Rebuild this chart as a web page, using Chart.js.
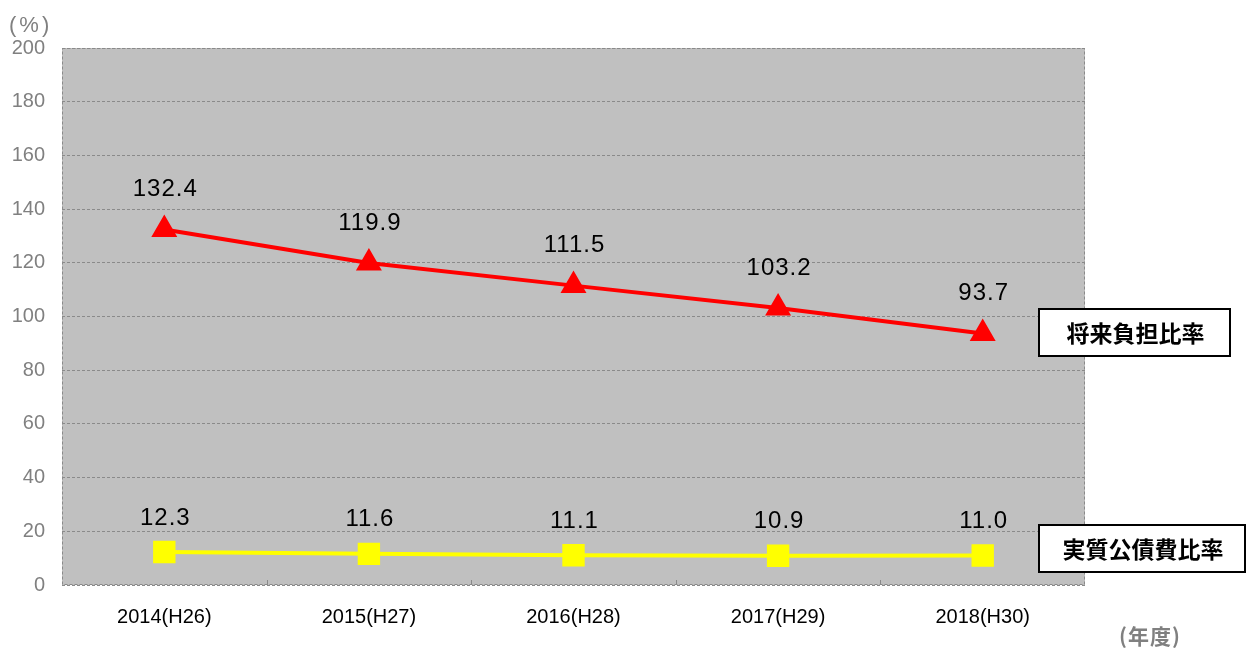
<!DOCTYPE html>
<html>
<head>
<meta charset="utf-8">
<script src="https://cdn.jsdelivr.net/npm/chart.js@4"></script>
<style>
  html, body { margin: 0; padding: 0; background: #fff; }
  #wrap { width: 1246px; height: 649px; position: relative; }
</style>
</head>
<body>
<div id="wrap"><canvas id="chart" width="1246" height="649"></canvas></div>
<script>
/********** DATA **********/
const years = ['2014(H26)', '2015(H27)', '2016(H28)', '2017(H29)', '2018(H30)'];
const futureBurden = [132.4, 119.9, 111.5, 103.2, 93.7];
const debtService = [12.3, 11.6, 11.1, 10.9, 11.0];
const seriesNames = ['将来負担比率', '実質公債費比率'];
const yTicks = [0, 20, 40, 60, 80, 100, 120, 140, 160, 180, 200];

const GRID = '#8a8a8a';
const CJK = '"Noto Sans CJK JP", "Noto Sans", sans-serif';

/********** PLUGIN: background, border, labels, boxes **********/
const decor = {
  id: 'decor',
  beforeDraw(chart) {
    const { ctx, chartArea: a } = chart;
    ctx.save();
    ctx.fillStyle = '#c0c0c0';
    ctx.fillRect(a.left, a.top, a.right - a.left, a.bottom - a.top);
    ctx.restore();
  },
  beforeDatasetsDraw(chart) {
    const { ctx, chartArea: a } = chart;
    ctx.save();
    // dashed frame
    ctx.strokeStyle = GRID;
    ctx.lineWidth = 1;
    ctx.setLineDash([3, 2]);
    ctx.strokeRect(a.left + 0.5, a.top + 0.5, a.right - a.left - 1, a.bottom - a.top - 1);
    ctx.setLineDash([]);
    // small category ticks on bottom edge
    const step = (a.right - a.left) / years.length;
    for (let i = 1; i < years.length; i++) {
      const x = Math.round(a.left + step * i) + 0.5;
      ctx.beginPath();
      ctx.moveTo(x, a.bottom);
      ctx.lineTo(x, a.bottom - 5);
      ctx.stroke();
    }
    ctx.restore();
  },
  afterDraw(chart) {
    const { ctx } = chart;
    ctx.save();

    // value labels
    ctx.fillStyle = '#000';
    ctx.font = '24px "Liberation Sans", Arial, sans-serif';
    ctx.letterSpacing = '1px';
    ctx.textAlign = 'center';
    ctx.textBaseline = 'middle';
    const offs = [40, 34];
    chart.data.datasets.forEach((ds, di) => {
      chart.getDatasetMeta(di).data.forEach((pt, i) => {
        ctx.fillText(ds.data[i].toFixed(1), pt.x + 1, pt.y - offs[di]);
      });
    });

    // unit labels
    ctx.fillStyle = '#808080';
    ctx.letterSpacing = '3px';
    ctx.font = '22px "Liberation Sans", Arial, sans-serif';
    ctx.textAlign = 'left';
    ctx.fillText('(%)', 9, 26);
    ctx.letterSpacing = '1px';
    ctx.font = 'bold 21px ' + CJK;
    ctx.fillText('(年度)', 1119, 636);
    ctx.letterSpacing = '0px';

    // series name boxes
    const boxes = [
      { x: 1039, y: 309, w: 191, h: 47 },
      { x: 1039, y: 525, w: 206, h: 47 }
    ];
    ctx.font = 'bold 23px ' + CJK;
    ctx.textAlign = 'center';
    boxes.forEach((b, i) => {
      ctx.fillStyle = '#fff';
      ctx.fillRect(b.x, b.y, b.w, b.h);
      ctx.strokeStyle = '#000';
      ctx.lineWidth = 2;
      ctx.strokeRect(b.x, b.y, b.w, b.h);
      ctx.fillStyle = '#000';
      ctx.fillText(seriesNames[i], b.x + b.w / 2 + 1, b.y + b.h / 2 + 1);
    });
    ctx.restore();
  }
};

/********** CHART **********/
new Chart(document.getElementById('chart'), {
  type: 'line',
  data: {
    labels: years,
    datasets: [{
      label: seriesNames[0],
      data: futureBurden,
      borderColor: '#ff0000',
      backgroundColor: '#ff0000',
      borderWidth: 4,
      pointStyle: 'triangle',
      pointRadius: 11,
      pointHoverRadius: 11,
      tension: 0
    }, {
      label: seriesNames[1],
      data: debtService,
      borderColor: '#ffff00',
      backgroundColor: '#ffff00',
      borderWidth: 4,
      pointStyle: 'rect',
      pointRadius: 13,
      pointHoverRadius: 13,
      tension: 0
    }]
  },
  options: {
    responsive: false,
    animation: false,
    layout: { padding: { top: 48, right: 161, bottom: 0, left: 0 } },
    plugins: { legend: { display: false }, tooltip: { enabled: false } },
    scales: {
      x: {
        offset: true,
        grid: { display: false },
        border: { display: false },
        ticks: {
          color: '#000',
          font: { family: '"Liberation Sans Narrow", "Liberation Sans", Arial', size: 20 },
          padding: 12,
          maxRotation: 0
        },
        afterFit(scale) { scale.height = 64; }
      },
      y: {
        min: 0,
        max: 200,
        afterBuildTicks(scale) { scale.ticks = yTicks.map(v => ({ value: v })); },
        grid: { color: GRID, lineWidth: 1, drawTicks: false },
        border: { display: false, dash: [3, 2] },
        ticks: {
          color: '#808080',
          font: { family: '"Liberation Sans", Arial', size: 20 },
          padding: 17
        },
        afterFit(scale) { scale.width = 62; }
      }
    }
  },
  plugins: [decor]
});
</script>
</body>
</html>
